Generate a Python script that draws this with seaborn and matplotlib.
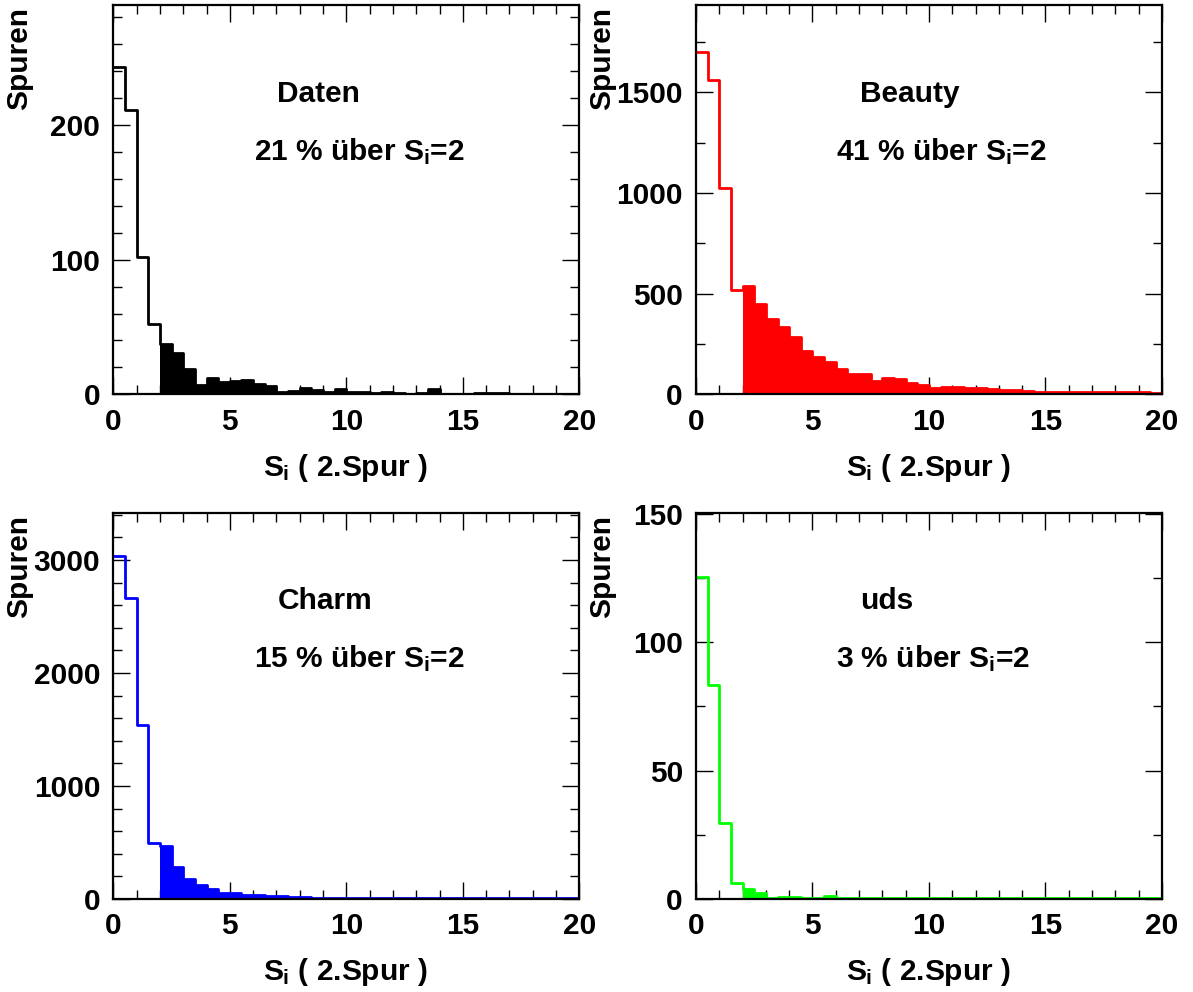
import numpy as np
import pandas as pd
import matplotlib
matplotlib.use("Agg")
import matplotlib.pyplot as plt
from matplotlib.ticker import MultipleLocator
import seaborn as sns

# bin layout: 40 bins of width 0.5 between 0 and 20
edges = np.arange(0, 20.5, 0.5)
centers = edges[:-1] + 0.25

daten = [243, 211, 102, 52, 37, 31, 19, 7, 12, 9.4, 10, 10.6, 8, 6, 1.7, 2.5, 4.7, 3.2, 1.5, 4,
         1.5, 1.5, 1, 1.5, 1, 0.5, 1, 4, 0.5, 0.5, 0.5, 1, 1, 1, 0.5, 0.5, 0.5, 0.5, 0.3, 0.3]
beauty = [1699, 1561, 1026, 518, 538, 449, 372, 333, 286, 217, 185, 159, 124, 99, 99, 68, 79, 76, 55, 45,
          33, 38, 36, 33, 29, 26, 19, 20, 17, 12, 14, 14, 12, 10, 10, 10, 10, 12, 10, 7]
charm = [3038, 2661, 1540, 493, 472, 280, 174, 121, 88, 50, 50, 38, 38, 27, 24, 18,
         15, 12, 12, 10, 10, 8, 8, 7, 7, 6, 6, 6, 5, 5, 5, 5, 4, 4, 4, 4, 6, 6, 5, 4]
uds = [125.3, 83.4, 29.7, 6.4, 3.8, 2.5, 0.3, 0.9, 0.9, 0.3, 0.3, 1.0,
       0.2, 0.2, 0.2, 0.2, 0.2, 0.2, 0.2, 0.2, 0.2, 0.2, 0.2, 0.2, 0.2, 0.2, 0.2, 0.2,
       0.2, 0.2, 0.2, 0.2, 0.2, 0.2, 0.2, 0.2, 0.2, 0.2, 0.2, 0.2]

names = ["Daten", "Beauty", "Charm", "uds"]
fractions = ["21 % über $S_i$=2", "41 % über $S_i$=2", "15 % über $S_i$=2", "3 % über $S_i$=2"]
series = [daten, beauty, charm, uds]
colors = ["black", "#ff0000", "#0000ff", "#00ff00"]
y_max = [289, 1934, 3419, 150.5]
y_major = [100, 500, 1000, 50]
y_minor = [20, 250, 200, 25]

sns.set_style("white")
plt.rcParams["font.family"] = ["Liberation Sans", "DejaVu Sans"]
plt.rcParams["font.weight"] = "bold"
plt.rcParams["text.color"] = "black"
plt.rcParams["axes.labelcolor"] = "black"
plt.rcParams["xtick.color"] = "black"
plt.rcParams["ytick.color"] = "black"
plt.rcParams["mathtext.fontset"] = "custom"
plt.rcParams["mathtext.rm"] = "Liberation Sans:bold"
plt.rcParams["mathtext.it"] = "Liberation Sans:bold"
plt.rcParams["mathtext.bf"] = "Liberation Sans:bold"

fig = plt.figure(figsize=(11.93, 9.92), dpi=100)
fig.patch.set_facecolor("white")

# axes boxes in figure fraction: left, bottom, width, height
boxes = [
    [0.095, 0.6025, 0.3906, 0.3924],
    [0.5834, 0.6025, 0.3906, 0.3924],
    [0.095, 0.0938, 0.3906, 0.3894],
    [0.5834, 0.0938, 0.3906, 0.3894],
]
fs = 21.5

for i in range(4):
    ax = fig.add_axes(boxes[i])
    df = pd.DataFrame({"s": centers, "n": np.array(series[i], dtype=float)})
    upper = df[df["s"] > 2]
    # filled part above S_i = 2
    sns.histplot(data=upper, x="s", weights="n", binwidth=0.5, binrange=(2, 20),
                 element="step", fill=True, color=colors[i], alpha=1, linewidth=0, ax=ax)
    # full outline
    sns.histplot(data=df, x="s", weights="n", binwidth=0.5, binrange=(0, 20),
                 element="step", fill=False, color=colors[i], linewidth=2, ax=ax)

    ax.set_xlim(0, 20)
    ax.set_ylim(0, y_max[i])
    ax.xaxis.set_major_locator(MultipleLocator(5))
    ax.xaxis.set_minor_locator(MultipleLocator(1))
    ax.yaxis.set_major_locator(MultipleLocator(y_major[i]))
    ax.yaxis.set_minor_locator(MultipleLocator(y_minor[i]))
    ax.tick_params(which="both", direction="in", bottom=True, left=True, top=True, right=True,
                   width=1, colors="black", labelsize=fs)
    ax.tick_params(which="major", length=12)
    ax.tick_params(which="minor", length=6.5)
    ax.tick_params(axis="x", which="major", pad=9.5)
    ax.tick_params(axis="y", which="major", pad=9.4)
    for lab in ax.get_xticklabels() + ax.get_yticklabels():
        lab.set_fontweight("bold")
    for sp in ax.spines.values():
        sp.set_linewidth(1.6)
        sp.set_color("black")

    ax.set_xlabel("$S_i$ ( 2.Spur )", fontsize=fs, fontweight="bold")
    ax.xaxis.label.set_va("baseline")
    ax.xaxis.set_label_coords(0.498, -0.21)
    ax.set_ylabel("Spuren", fontsize=fs, fontweight="bold", loc="top")
    ax.yaxis.set_label_coords(-0.172, 0.995)

    ax.text(0.352, 0.75, names[i], transform=ax.transAxes, fontsize=fs,
            fontweight="bold", ha="left", va="baseline")
    ax.text(0.301, 0.601, fractions[i], transform=ax.transAxes, fontsize=fs,
            fontweight="bold", ha="left", va="baseline")

fig.savefig("out.png", dpi=100, facecolor="white")
